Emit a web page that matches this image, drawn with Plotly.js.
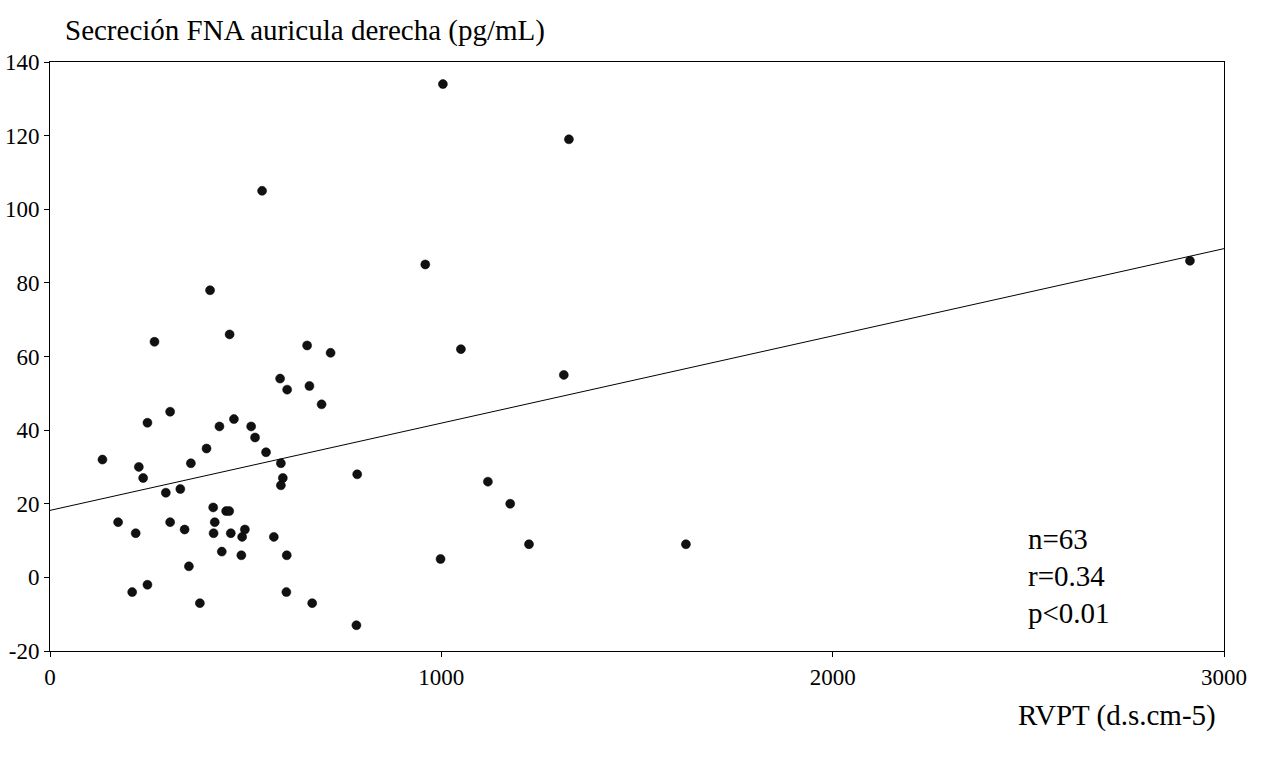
<!DOCTYPE html>
<html>
<head>
<meta charset="utf-8">
<script src="https://cdn.plot.ly/plotly-3.0.1.min.js"></script>
<style>html,body{margin:0;padding:0;background:#fff;}#chart{width:1263px;height:758px;}</style>
</head>
<body>
<div id="chart"></div>
<script>
const rvpt = [134,174,210,219,227,238,249,249,267,296,307,307,333,344,355,360,383,400,409,417,421,418,433,439,450,458,459,462,470,489,491,498,514,524,542,552,572,588,590,595,590,604,605,606,657,663,670,694,717,783,785,959,998,1004,1050,1119,1176,1224,1313,1326,1625,2913];
const fna  = [32,15,-4,12,30,27,42,-2,64,23,45,15,24,13,3,31,-7,35,78,19,15,12,41,7,18,18,66,12,43,6,11,13,41,38,105,34,11,54,31,27,25,-4,6,51,63,52,-7,47,61,-13,28,85,5,134,62,26,20,9,55,119,9,86];
const fitIntercept = 18.2;
const fitSlope = 0.0237;
const fitX = [0, 3000];
const yTickVals = [-20,0,20,40,60,80,100,120,140];
const yTickText = ["-20","0","20","40","60","80","100","120","140"];
const xTickVals = [0,1000,2000,3000];
const xTickText = ["0","1000","2000","3000"];
const statsText = ["n=63","r=0.34","p<0.01"];

const FONT = "Liberation Serif, Times New Roman, serif";

const traces = [
  {
    x: fitX, y: fitX.map(v => fitIntercept + fitSlope * v),
    mode: "lines", type: "scatter",
    line: {color: "#000", width: 1},
    hoverinfo: "skip", showlegend: false
  },
  {
    x: rvpt, y: fna, mode: "markers", type: "scatter",
    marker: {color: "#111", size: 9, line: {color: "#000", width: 0.5}},
    showlegend: false
  }
];

const annotations = [
  {xref: "paper", yref: "paper", x: 0.011, y: 1.054, xanchor: "left", yanchor: "middle",
   text: "Secreción FNA auricula derecha (pg/mL)", showarrow: false,
   font: {family: FONT, size: 29, color: "#000"}},
  {xref: "paper", yref: "paper", x: 0.9945, y: -0.11, xanchor: "right", yanchor: "middle",
   text: "RVPT (d.s.cm-5)", showarrow: false,
   font: {family: FONT, size: 29, color: "#000"}}
];
statsText.forEach((t, i) => {
  annotations.push({xref: "paper", yref: "paper", x: 0.831, y: 0.19 - i * 0.063,
    xanchor: "left", yanchor: "middle", text: t, showarrow: false,
    font: {family: FONT, size: 29, color: "#000"}});
});

const layout = {
  width: 1263, height: 758,
  margin: {l: 50, r: 39, t: 62, b: 107},
  paper_bgcolor: "#fff", plot_bgcolor: "#fff",
  font: {family: FONT, size: 23, color: "#000"},
  showlegend: false,
  xaxis: {
    range: [0, 3000], tickvals: xTickVals, ticktext: xTickText,
    showgrid: false, zeroline: false, showline: true, mirror: true,
    linecolor: "#000", linewidth: 1, ticks: "outside", ticklen: 5, tickcolor: "#000",
    tickfont: {family: FONT, size: 23}
  },
  yaxis: {
    range: [-20, 140], tickvals: yTickVals, ticktext: yTickText,
    showgrid: false, zeroline: false, showline: true, mirror: true,
    linecolor: "#000", linewidth: 1, ticks: "outside", ticklen: 5, tickcolor: "#000",
    tickfont: {family: FONT, size: 23}
  },
  annotations: annotations
};

Plotly.newPlot("chart", traces, layout, {displayModeBar: false, staticPlot: true});
</script>
</body>
</html>
